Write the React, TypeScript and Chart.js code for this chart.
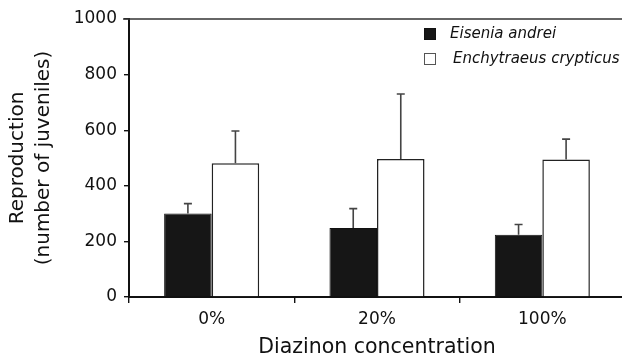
import React, { useEffect, useRef } from "react";
import { Chart, registerables } from "chart.js";

Chart.register(...registerables);

const categories = ["0%", "20%", "100%"];
const seriesLabels = ["Eisenia andrei", "Enchytraeus crypticus"];
const eiseniaMeans = [300, 248, 224];
const eiseniaErrors = [36, 70, 37];
const enchytraeusMeans = [481, 496, 495];
const enchytraeusErrors = [116, 234, 73];
const yTicks = [0, 200, 400, 600, 800, 1000];

const FONT = "'DejaVu Sans', 'Liberation Sans', Arial, sans-serif";

const errorBarPlugin = {
  id: "errorBars",
  afterDatasetsDraw(chart: any) {
    const ctx = chart.ctx;
    const yScale = chart.scales.y;
    chart.data.datasets.forEach((ds: any, i: number) => {
      const meta = chart.getDatasetMeta(i);
      meta.data.forEach((el: any, j: number) => {
        const top = yScale.getPixelForValue(ds.data[j] + ds.errors[j]);
        ctx.save();
        ctx.strokeStyle = "#444";
        ctx.lineWidth = 1.6;
        ctx.beginPath();
        ctx.moveTo(el.x, el.y);
        ctx.lineTo(el.x, top);
        ctx.moveTo(el.x - 4, top);
        ctx.lineTo(el.x + 4, top);
        ctx.stroke();
        ctx.restore();
      });
    });
  },
};

const framePlugin = {
  id: "frameTop",
  afterDraw(chart: any) {
    const { ctx, chartArea } = chart;
    ctx.save();
    ctx.strokeStyle = "#333";
    ctx.lineWidth = 1.4;
    ctx.beginPath();
    ctx.moveTo(chartArea.left - 6, chartArea.top);
    ctx.lineTo(chart.width, chartArea.top);
    ctx.stroke();
    ctx.restore();
  },
};

const legendPlugin = {
  id: "customLegend",
  afterDraw(chart: any) {
    const { ctx, chartArea } = chart;
    const x0 = chartArea.left + 295;
    const y0 = chartArea.top + 15;
    chart.data.datasets.forEach((ds: any, i: number) => {
      const cy = y0 + i * 25;
      ctx.save();
      ctx.fillStyle = ds.backgroundColor;
      ctx.fillRect(x0, cy - 6, 12, 12);
      ctx.strokeStyle = i === 0 ? "#111" : "#555";
      ctx.lineWidth = 1;
      ctx.strokeRect(x0 + 0.5, cy - 5.5, 11, 11);
      ctx.fillStyle = "#111";
      ctx.font = `italic 15px ${FONT}`;
      ctx.textBaseline = "middle";
      ctx.textAlign = "left";
      ctx.fillText(ds.label, x0 + 26 + i * 3, cy);
      ctx.restore();
    });
  },
};

export default function App() {
  const canvasRef = useRef<HTMLCanvasElement | null>(null);

  useEffect(() => {
    if (!canvasRef.current) return;
    const chart = new Chart(canvasRef.current, {
      type: "bar",
      data: {
        labels: categories,
        datasets: [
          {
            label: seriesLabels[0],
            data: eiseniaMeans,
            errors: eiseniaErrors,
            backgroundColor: "#161616",
            borderColor: "#111",
            borderWidth: 1,
          } as any,
          {
            label: seriesLabels[1],
            data: enchytraeusMeans,
            errors: enchytraeusErrors,
            backgroundColor: "#ffffff",
            borderColor: "#222",
            borderWidth: 1.5,
          } as any,
        ],
      },
      options: {
        animation: false,
        responsive: true,
        maintainAspectRatio: false,
        datasets: {
          bar: { categoryPercentage: 0.575, barPercentage: 1 },
        },
        layout: { padding: { top: 19, right: 1, left: 0, bottom: 0 } },
        plugins: {
          legend: { display: false },
          tooltip: { enabled: false },
        },
        scales: {
          x: {
            afterFit(scale: any) {
              scale.height = 66;
            },
            grid: {
              drawOnChartArea: false,
              drawTicks: true,
              tickLength: 6,
              color: "#111",
              lineWidth: 1.4,
            },
            border: { display: true, color: "#111", width: 2 },
            ticks: {
              color: "#111",
              padding: 6,
              font: { family: FONT, size: 17 },
            },
            title: {
              display: true,
              text: "Diazinon concentration",
              color: "#111",
              font: { family: FONT, size: 20.5 },
              padding: { top: 0, bottom: 3 },
            },
          },
          y: {
            min: 0,
            max: 1000,
            afterFit(scale: any) {
              scale.width = 129;
            },
            afterBuildTicks(scale: any) {
              scale.ticks = yTicks.map((v) => ({ value: v }));
            },
            grid: {
              drawOnChartArea: false,
              drawTicks: true,
              tickLength: 5,
              color: "#111",
              lineWidth: 1.4,
            },
            border: { display: true, color: "#111", width: 2 },
            ticks: {
              color: "#111",
              padding: 7,
              font: { family: FONT, size: 17 },
              callback: (v: any) => String(v),
            },
            title: {
              display: true,
              text: ["Reproduction", "(number of juveniles)"],
              color: "#111",
              font: { family: FONT, size: 20, lineHeight: 1.3 },
              padding: { top: 5, bottom: 0 },
            },
          },
        },
      },
      plugins: [errorBarPlugin, framePlugin, legendPlugin],
    });
    return () => chart.destroy();
  }, []);

  return (
    <div
      style={{
        position: "absolute",
        left: 0,
        top: 0,
        width: 622,
        height: 363,
        overflow: "hidden",
        background: "#fff",
      }}
    >
      <div style={{ position: "relative", width: 626, height: 363 }}>
        <canvas ref={canvasRef} />
      </div>
    </div>
  );
}
